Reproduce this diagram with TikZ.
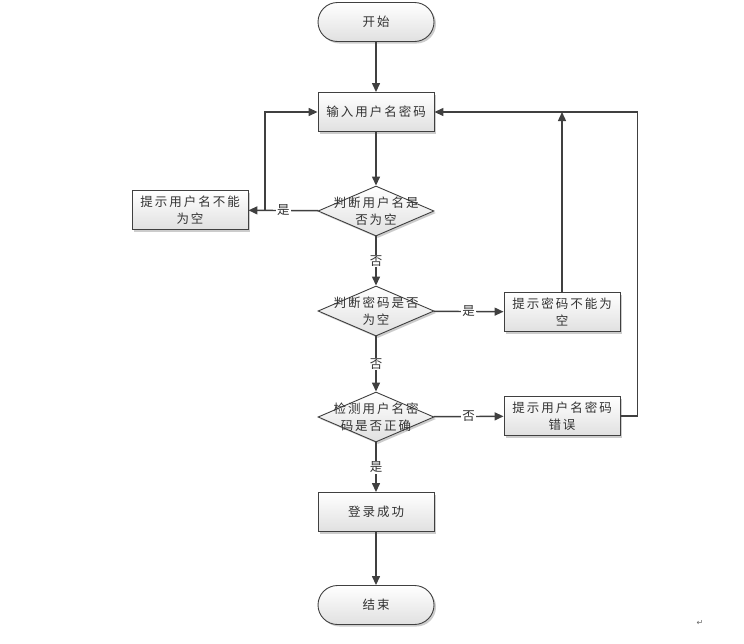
\documentclass[tikz,border=0pt]{standalone}
\usepackage{fontspec}
\newfontfamily\cjk[LetterSpace=16]{Noto Sans CJK SC}
\newfontfamily\dejavu{DejaVu Sans}
\usetikzlibrary{shapes.geometric,arrows.meta,shadows}
\begin{document}
\begin{tikzpicture}[x=1pt,y=-1pt,
  every node/.style={font=\cjk\fontsize{12.5}{17}\selectfont, text=black!80},
  base/.style={draw=black!75, line width=0.9pt, top color=white, bottom color=black!12,
    drop shadow={shadow xshift=2pt,shadow yshift=-2pt,fill=black!40,opacity=0.5}},
  procbox/.style={base, rectangle, minimum width=116pt, minimum height=39pt, inner sep=0pt, align=center},
  termbox/.style={base, rectangle, rounded corners=19.5pt, minimum width=116pt, minimum height=39pt, inner sep=0pt},
  decbox/.style={base, diamond, minimum width=116pt, minimum height=50pt, inner sep=0pt},
  dectext/.style={align=center, inner sep=0pt, fill=none, draw=none},
  conn/.style={draw=black!75, line width=1.4pt, -{Triangle[length=9pt,width=8pt]}},
  lbl/.style={fill=white, inner sep=1pt},
]
\useasboundingbox (0,0) rectangle (744,643);

\node[termbox] (start) at (376,22) {开始};
\node[procbox] (input) at (376,112) {输入用户名密码};
\node[decbox, label={[dectext]center:判断用户名是\\否为空}] (d1) at (376,211) {};
\node[procbox] (warnU) at (190,210) {提示用户名不能\\为空};
\node[decbox, label={[dectext]center:判断密码是否\\为空}] (d2) at (376,311) {};
\node[procbox] (warnP) at (562,312) {提示密码不能为\\空};
\node[decbox, label={[dectext]center:检测用户名密\\码是否正确}] (d3) at (376,417) {};
\node[procbox] (warnE) at (562,416) {提示用户名密码\\错误};
\node[procbox] (ok) at (376,512) {登录成功};
\node[termbox] (end) at (376,605) {结束};
\node[font=\dejavu\fontsize{8}{10}\selectfont, text=black!60] (mark) at (700,623) {↵};

\coordinate (j1) at (265,210);

\draw[conn] (start) -- (input);
\draw[conn] (input) -- (d1);
\draw[conn] (d1) -- node[lbl]{是} (warnU);
\draw[conn] (j1) |- (input.west);
\draw[conn] (d1) -- node[lbl]{否} (d2);
\draw[conn] (d2) -- node[lbl]{是} (warnP);
\draw[conn] (warnP.north) -- (warnP.north |- input.east);
\draw[conn] (d2) -- node[lbl]{否} (d3);
\draw[conn] (d3) -- node[lbl]{否} (warnE);
\draw[conn] (warnE.east) -- ++(17,0) |- (input.east);
\draw[conn] (d3) -- node[lbl]{是} (ok);
\draw[conn] (ok) -- (end);
\end{tikzpicture}
\end{document}
